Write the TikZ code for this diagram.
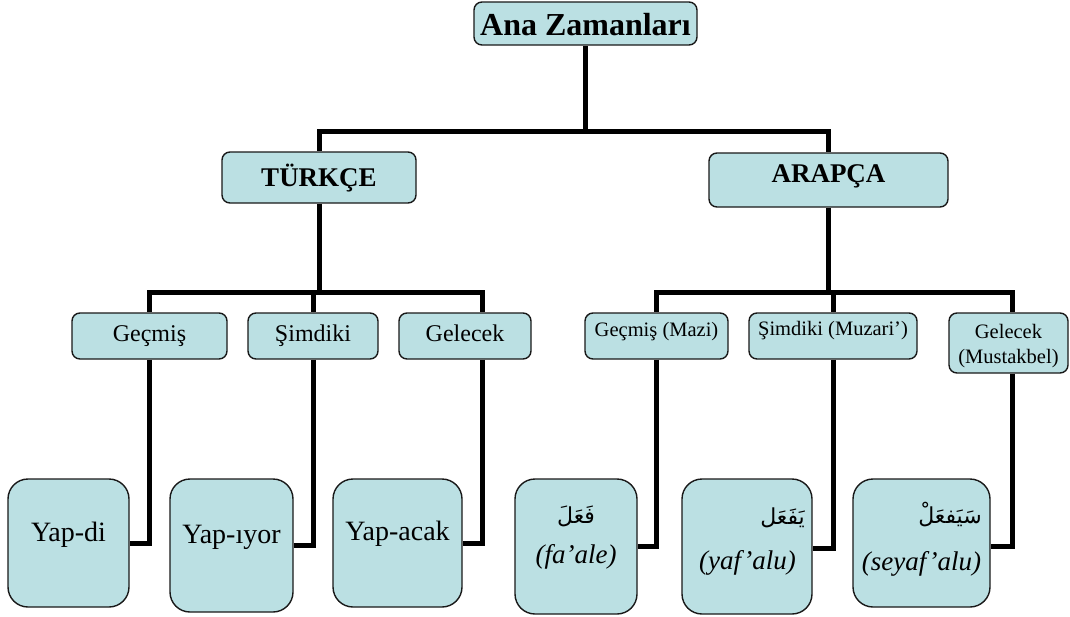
\documentclass[tikz,border=0pt]{standalone}
\usepackage{fontspec}
\setmainfont{Liberation Serif}
\newfontfamily\arabicfont[Script=Arabic]{DejaVu Sans}
\TeXXeTstate=1
\usetikzlibrary{backgrounds}
\definecolor{boxfill}{RGB}{187,224,227}
\definecolor{boxline}{RGB}{25,25,25}
\tikzset{
  box/.style={draw=boxline, line width=1.4pt, fill=boxfill, rounded corners=8pt,
              inner sep=0pt},
  bigbox/.style={box, rounded corners=20pt},
  lbl/.style={inner sep=0pt, anchor=base, text=black},
  conn/.style={draw=black, line width=5pt, line join=miter},
  ttl/.style={lbl, font=\fontsize{32}{36}\selectfont\bfseries},
  hdr/.style={lbl, font=\fontsize{27}{30}\selectfont\bfseries},
  midt/.style={lbl, font=\fontsize{24}{27}\selectfont},
  mida/.style={lbl, font=\fontsize{20.5}{24}\selectfont},
  bot/.style={lbl, font=\fontsize{28}{32}\selectfont},
  boti/.style={lbl, font=\fontsize{27}{32}\selectfont\itshape},
  arab/.style={lbl, font=\arabicfont\fontsize{22}{26}\selectfont},
}
\begin{document}
\begin{tikzpicture}[x=1pt,y=-1pt]
\useasboundingbox (0,0) rectangle (1070,616);
% boxes (corner to corner)
\node[box, fit/.style={}, minimum width=223pt, minimum height=43pt] (top) at (585.5,23.5) {};
\node[box, minimum width=194pt, minimum height=51pt] (tr) at (319,177.5) {};
\node[box, minimum width=239pt, minimum height=54pt] (ar) at (828.5,180) {};
\node[box, minimum width=155pt, minimum height=46pt] (tg) at (149.5,336) {};
\node[box, minimum width=130pt, minimum height=46pt] (ts) at (313,336) {};
\node[box, minimum width=132pt, minimum height=46pt] (tl) at (465,336) {};
\node[box, minimum width=143pt, minimum height=46pt] (ag) at (656.5,336) {};
\node[box, minimum width=168pt, minimum height=46pt] (as) at (833,336) {};
\node[box, minimum width=119pt, minimum height=60pt] (al) at (1008.5,343) {};
\node[bigbox, minimum width=121pt, minimum height=128pt] (yd) at (68.5,543) {};
\node[bigbox, minimum width=123pt, minimum height=133pt] (yi) at (231.5,545.5) {};
\node[bigbox, minimum width=129pt, minimum height=128pt] (ya) at (397.5,543) {};
\node[bigbox, minimum width=122pt, minimum height=135pt] (fa) at (576,546.5) {};
\node[bigbox, minimum width=130pt, minimum height=135pt] (yf) at (747,546.5) {};
\node[bigbox, minimum width=137pt, minimum height=128pt] (sy) at (921.5,543) {};
% texts
\node[ttl] (ttop) at (585.5,35) {Ana Zamanları};
\node[hdr] (ttr) at (319,186) {TÜRKÇE};
\node[hdr] (tar) at (828.5,182) {ARAPÇA};
\node[midt] (ttg) at (149.5,341) {Geçmiş};
\node[midt] (tts) at (313,341) {Şimdiki};
\node[midt] (ttl) at (465,341) {Gelecek};
\node[mida] (tag) at (656.5,336) {Geçmiş (Mazi)};
\node[mida] (tas) at (833,335) {Şimdiki (Muzari’)};
\node[mida] (tal1) at (1008.5,338) {Gelecek};
\node[mida] (tal2) at (1008.5,363) {(Mustakbel)};
\node[bot] (tyd) at (68.5,541) {Yap-di};
\node[bot] (tyi) at (231.5,543) {Yap-ıyor};
\node[bot] (tya) at (397.5,540) {Yap-acak};
\node[arab] (afa) at (576,523) {\beginR فَعَلَ\endR};
\node[arab, anchor=base east] (ayf) at (805,524) {\beginR يَفَعَل\endR};
\node[arab, anchor=base east] (asy) at (982,523) {\beginR سَيَفعَلْ\endR};
\node[boti] (lfa) at (576,563) {(fa’ale)};
\node[boti] (lyf) at (747.5,569) {(yaf’alu)};
\node[boti] (lsy) at (921.5,570) {(seyaf’alu)};
% connectors
\coordinate (j0) at (585.5,131);
\coordinate (j1) at (319,292);
\coordinate (j2) at (828.5,292);
\begin{pgfonlayer}{background}
\draw[conn] (top.south) -- (j0);
\draw[conn] (j0) -| (tr.north);
\draw[conn] (j0) -| (ar.north);
\draw[conn] (tr.south) -- (j1);
\draw[conn] (j1) -| (tg.north);
\draw[conn] (j1) -| (ts.north);
\draw[conn] (j1) -| ([xshift=17pt]tl.north);
\draw[conn] (ar.south) -- (j2);
\draw[conn] (j2) -| (ag.north);
\draw[conn] (j2) -| (as.north);
\draw[conn] (j2) -| ([xshift=3.5pt]al.north);
\draw[conn] (tg.south) |- (yd.east);
\draw[conn] (ts.south) |- (yi.east);
\draw[conn] ([xshift=17pt]tl.south) |- (ya.east);
\draw[conn] (ag.south) |- (fa.east);
\draw[conn] (as.south) |- ([yshift=-1.5pt]yf.east);
\draw[conn] ([xshift=3.5pt]al.south) |- ([yshift=-3pt]sy.east);
\end{pgfonlayer}
\end{tikzpicture}
\end{document}
